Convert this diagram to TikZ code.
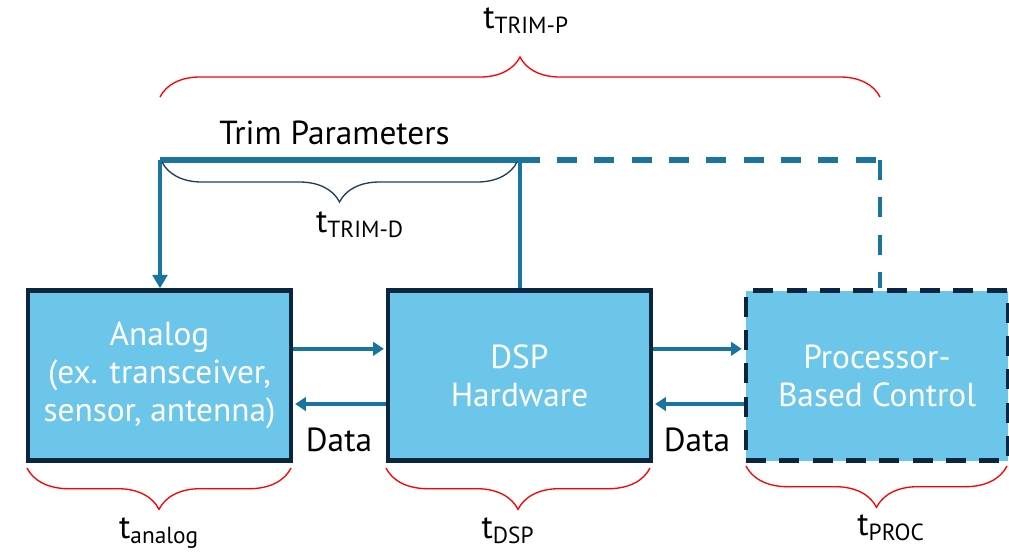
\documentclass[tikz,border=0pt]{standalone}
\usepackage{fontspec}
\setmainfont{PT Sans}
\usetikzlibrary{arrows.meta,decorations.pathreplacing}
\definecolor{boxblue}{RGB}{108,198,234}
\definecolor{boxedge}{RGB}{10,37,64}
\definecolor{linkblue}{RGB}{25,117,160}
\definecolor{bracenavy}{RGB}{31,61,95}

\begin{document}
\begin{tikzpicture}[x=0.75pt, y=-0.75pt,
    box/.style={draw=boxedge, fill=boxblue, line width=3.4pt, text=white, align=center,
        minimum width=197pt, minimum height=127.5pt, inner sep=0pt,
        font=\fontsize{25}{28.5}\selectfont},
    dataarrow/.style={linkblue, line width=3.5pt, -{Triangle[length=8pt,width=10pt]}, shorten >=1.5pt},
    trimline/.style={linkblue, line width=3pt},
    redbrace/.style={red, line width=1pt, decorate, decoration={brace, amplitude=30pt}},
    textlabel/.style={font=\fontsize{25}{28}\selectfont}]
    \useasboundingbox (0,0) rectangle (1009,551);

    % Blocks
    \node[box] (analog) at (159.5,375.5) {Analog\\(ex. transceiver,\\sensor, antenna)};
    \node[box] (dsp) at (519.5,375.5) {DSP\\Hardware};
    \node[box, dash pattern=on 15pt off 10pt, minimum width=196.5pt] (proc) at (877,375.5) {Processor-\\Based Control};

    % Data paths
    \draw[dataarrow] ([yshift=20pt]analog.east) -- ([yshift=20pt]dsp.west);
    \draw[dataarrow] ([yshift=-21.4pt]dsp.west) -- ([yshift=-21.4pt]analog.east);
    \draw[dataarrow] ([yshift=20pt]dsp.east) -- ([yshift=20pt]proc.west);
    \draw[dataarrow] ([yshift=-21.4pt]proc.west) -- ([yshift=-21.4pt]dsp.east);
    \node[textlabel] (data1) at (339,440) {Data};
    \node[textlabel] (data2) at (697,440) {Data};

    % Trim parameters
    \coordinate (trimL) at (160,160);
    \coordinate (trimM) at (519.5,160);
    \coordinate (trimR) at (880,160);
    \draw[trimline, line width=3.8pt] (trimL) -- (trimM);
    \draw[trimline, -{Triangle[length=10pt,width=11pt]}] (trimL) -- (trimL |- analog.north);
    \draw[trimline] (trimM) -- (dsp.north);
    \draw[trimline, line width=3.8pt, dash pattern=on 15pt off 13pt] (trimM) -- (trimR);
    \draw[trimline, dash pattern=on 15pt off 13pt] (trimR) -- (trimR |- proc.north);
    \node[textlabel] (trimtext) at (334.5,133) {Trim Parameters};

    % Timing braces
    \draw[redbrace] (160,97) -- (880,97);
    \node[textlabel] (tp) at (526,21) {t\textsubscript{TRIM-P}};
    \draw[redbrace, bracenavy, decoration={brace, mirror, amplitude=30pt}] (162,162) -- (517,162);
    \node[textlabel] (td) at (360,225) {t\textsubscript{TRIM-D}};
    \draw[redbrace, decoration={brace, mirror, amplitude=31pt}] (27,468) -- (291,468);
    \draw[redbrace, decoration={brace, mirror, amplitude=31pt}] (386,468) -- (650,468);
    \draw[redbrace, decoration={brace, mirror, amplitude=31pt}] (746,466) -- (1007,466);
    \node[textlabel] (ta) at (159,533) {t\textsubscript{analog}};
    \node[textlabel] (tdsp) at (508,531) {t\textsubscript{DSP}};
    \node[textlabel] (tproc) at (891,528) {t\textsubscript{PROC}};
\end{tikzpicture}
\end{document}
